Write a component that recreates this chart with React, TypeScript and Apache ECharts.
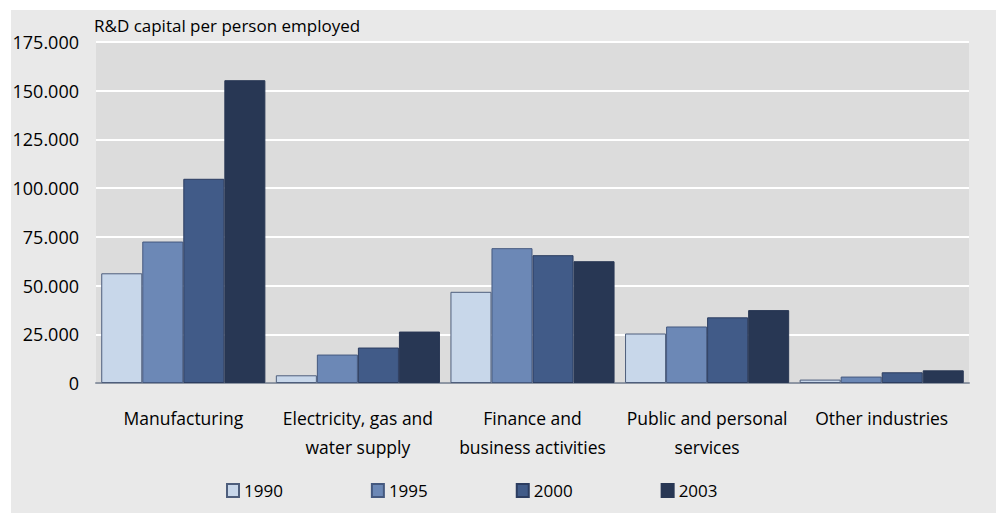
import React, { useEffect, useRef } from "react";
import * as echarts from "echarts";

const categories = [
  "Manufacturing",
  "Electricity, gas and\nwater supply",
  "Finance and\nbusiness activities",
  "Public and personal\nservices",
  "Other industries",
];
const years = ["1990", "1995", "2000", "2003"];
const v1990 = [56300, 3960, 46800, 25400, 1750];
const v1995 = [72600, 14600, 69200, 29000, 3300];
const v2000 = [104800, 18200, 65600, 33700, 5500];
const v2003 = [155400, 26400, 62500, 37400, 6500];
const yTicks = [0, 25000, 50000, 75000, 100000, 125000, 150000, 175000];

const fills = ["#c8d7ea", "#6c88b6", "#415b88", "#283754"];
const borders = ["#4e5e7c", "#45597f", "#2c3d60", "#283754"];
const FONT = "'Open Sans', sans-serif";

export default function App() {
  const ref = useRef<HTMLDivElement>(null);
  useEffect(() => {
    const chart = echarts.init(ref.current!, null, { renderer: "svg" });
    const data = [v1990, v1995, v2000, v2003];
    chart.setOption({
      animation: false,
      backgroundColor: "#ffffff",
      textStyle: { fontFamily: FONT },
      graphic: [
        {
          type: "rect",
          z: -10,
          silent: true,
          shape: { x: 11, y: 10, width: 985, height: 503 },
          style: { fill: "#e9e9e9" },
        },
        {
          type: "text",
          left: 94,
          top: 17,
          style: {
            text: "R&D capital per person employed",
            fontFamily: FONT,
            fontSize: 17,
            fill: "#000",
          },
        },
      ],
      legend: {
        left: 226,
        top: 482,
        padding: 0,
        itemWidth: 12,
        itemHeight: 13,
        itemGap: 88,
        icon: "rect",
        textStyle: { fontFamily: FONT, fontSize: 17, color: "#000" },
        data: years,
      },
      grid: {
        left: 96,
        right: 28,
        top: 42,
        bottom: 130,
        show: true,
        backgroundColor: "#dcdcdc",
        borderWidth: 0,
      },
      xAxis: {
        type: "category",
        data: categories,
        axisTick: { show: false },
        axisLine: { show: true, lineStyle: { color: "#8e96a3", width: 2 } },
        axisLabel: {
          interval: 0,
          margin: 20,
          fontFamily: FONT,
          fontSize: 17.5,
          lineHeight: 29,
          color: "#000",
        },
      },
      yAxis: {
        type: "value",
        min: yTicks[0],
        max: yTicks[yTicks.length - 1],
        interval: 25000,
        axisLine: { show: false },
        axisTick: { show: false },
        splitLine: { lineStyle: { color: "#ffffff", width: 2 } },
        axisLabel: {
          margin: 17,
          fontFamily: FONT,
          fontSize: 18,
          color: "#000",
          formatter: (v: number) =>
            v === 0 ? "0" : String(v / 1000) + ".000",
        },
      },
      series: years.map((y, i) => ({
        name: y,
        type: "bar",
        data: data[i],
        barGap: "0%",
        barCategoryGap: "6%",
        itemStyle: { color: fills[i], borderColor: borders[i], borderWidth: 1 },
      })),
    });
    return () => chart.dispose();
  }, []);
  return (
    <div
      ref={ref}
      style={{ position: "absolute", left: 0, top: 0, width: 997, height: 513 }}
    />
  );
}
